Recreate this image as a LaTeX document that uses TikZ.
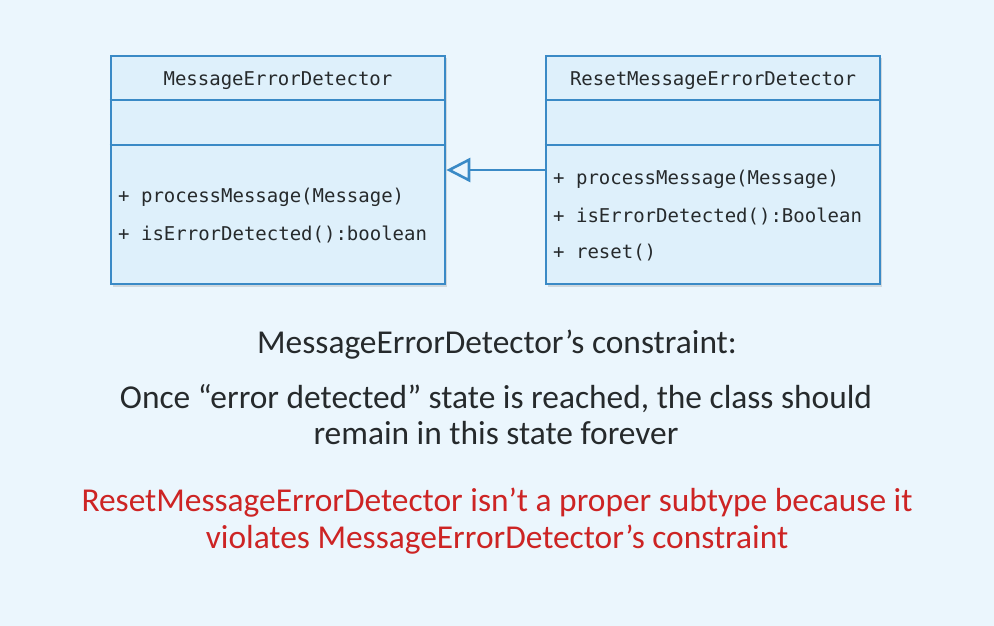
\documentclass[tikz,border=0pt]{standalone}
\usepackage{fontspec}
\setmainfont{Carlito}
\setmonofont{DejaVu Sans Mono}
\usetikzlibrary{arrows.meta,shadows}
\definecolor{bg}{RGB}{235,246,253}
\definecolor{boxfill}{RGB}{222,240,251}
\definecolor{boxline}{RGB}{58,138,198}
\definecolor{txt}{RGB}{38,42,44}
\definecolor{redtxt}{RGB}{205,36,36}
\tikzset{
  classbox/.style={draw=boxline, fill=boxfill, line width=2.6pt, rectangle,
    minimum width=334pt, minimum height=228pt, inner sep=0pt,
    drop shadow={shadow xshift=1.5pt, shadow yshift=-2.5pt, opacity=0.25}},
  divider/.style={draw=boxline, line width=2.6pt},
  monotxt/.style={font=\ttfamily\fontsize{19}{22}\selectfont, text=txt, inner sep=0pt},
  bodytxt/.style={font=\fontsize{33.4}{36}\selectfont, text=txt, align=center, inner sep=0pt},
  redbody/.style={font=\fontsize{33.4}{37}\selectfont, text=redtxt, align=center, inner sep=0pt},
  inherit/.style={draw=boxline, line width=2.6pt, -{Triangle[open, length=24pt, width=24pt, line width=2.6pt]}}
}
\begin{document}
\begin{tikzpicture}[x=1pt,y=-1pt]
\fill[bg] (0,0) rectangle (994,626);
\useasboundingbox (0,0) rectangle (994,626);

% left class
\node[classbox] (A) at (278,170) {};
\draw[divider] (A.west |- 0,100) -- (A.east |- 0,100);
\draw[divider] (A.west |- 0,145) -- (A.east |- 0,145);
\node[monotxt] (At) at (278,80.5) {MessageErrorDetector};
\node[monotxt, anchor=west] (A1) at (118,197.5) {+ processMessage(Message)};
\node[monotxt, anchor=west] (A2) at (118,234.5) {+ isErrorDetected():boolean};

% right class
\node[classbox] (B) at (713,170) {};
\draw[divider] (B.west |- 0,100) -- (B.east |- 0,100);
\draw[divider] (B.west |- 0,145) -- (B.east |- 0,145);
\node[monotxt] (Bt) at (713,80.5) {ResetMessageErrorDetector};
\node[monotxt, anchor=west] (B1) at (553,179.5) {+ processMessage(Message)};
\node[monotxt, anchor=west] (B2) at (553,216.5) {+ isErrorDetected():Boolean};
\node[monotxt, anchor=west] (B3) at (553,252.5) {+ reset()};

% generalization
\draw[inherit] (B.west |- 0,170) -- (A.east |- 0,170);

% texts
\node[bodytxt] (C1) at (497,345) {MessageErrorDetector’s constraint:};
\node[bodytxt] (C2) at (496,415) {Once “error detected” state is reached, the class should\\remain in this state forever};
\node[redbody] (C3) at (497,521) {ResetMessageErrorDetector isn’t a proper subtype because it\\violates MessageErrorDetector’s constraint};
\end{tikzpicture}
\end{document}
